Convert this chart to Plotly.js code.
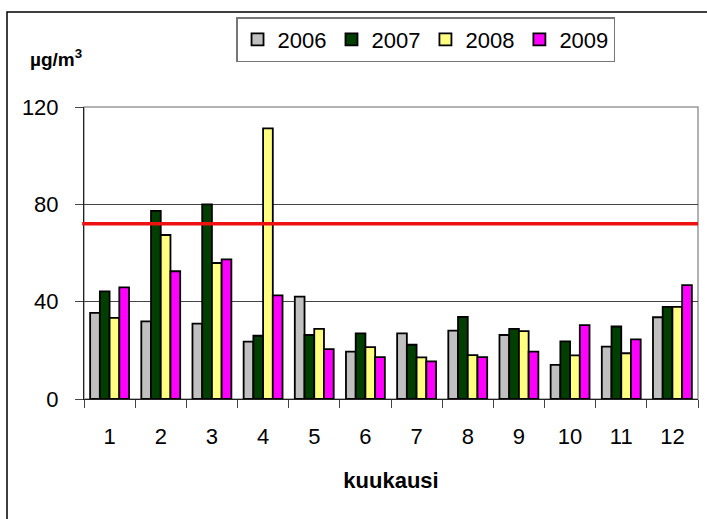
<!DOCTYPE html>
<html>
<head>
<meta charset="utf-8">
<script src="https://cdn.plot.ly/plotly-3.0.1.min.js"></script>
<style>html,body{margin:0;padding:0;background:#fff;}#chart{width:707px;height:519px;}</style>
</head>
<body>
<div id="chart"></div>
<script>
const months = ["1","2","3","4","5","6","7","8","9","10","11","12"];
const years = ["2006","2007","2008","2009"];
const v2006 = [35.4, 31.9, 31.0, 23.6, 42.1, 19.5, 27.0, 28.1, 26.3, 14.0, 21.5, 33.6];
const v2007 = [44.2, 77.3, 80.0, 26.0, 26.3, 27.0, 22.3, 33.7, 28.8, 23.7, 29.8, 37.9];
const v2008 = [33.3, 67.4, 55.9, 111.2, 28.8, 21.3, 17.1, 18.0, 27.9, 17.9, 18.8, 37.9];
const v2009 = [45.9, 52.5, 57.4, 42.6, 20.5, 17.2, 15.5, 17.2, 19.5, 30.4, 24.5, 46.8];
const limitValue = [72];
const yTicks = [0, 40, 80, 120];

const seriesValues = [v2006, v2007, v2008, v2009];
const colors = ["#C0C0C0", "#003F00", "#FFFF80", "#FF00FF"];

const traces = years.map((y, i) => ({
  type: "bar",
  name: y,
  x: months,
  y: seriesValues[i],
  marker: {color: colors[i], line: {color: "#000", width: 1.8}},
  hoverinfo: "x+y+name"
}));

const layout = {
  width: 707, height: 519,
  margin: {l: 84, r: 9, t: 107, b: 120},
  paper_bgcolor: "#fff", plot_bgcolor: "#fff",
  font: {family: "Liberation Sans, Arial, sans-serif", color: "#000", size: 22},
  barmode: "group", bargap: 0.24, bargroupgap: 0,
  showlegend: true,
  legend: {
    orientation: "h", x: 0.2476, y: 1.308, xanchor: "left", yanchor: "top",
    bordercolor: "#777", borderwidth: 1.5, bgcolor: "#fff",
    font: {size: 22}, itemwidth: 30, tracegroupgap: 0
  },
  xaxis: {
    type: "category", tickson: "boundaries", ticks: "outside", ticklen: 8,
    tickcolor: "#444", showline: true, linecolor: "#222", linewidth: 1,
    showgrid: false, tickfont: {size: 22}, ticklabelstandoff: 18,
    title: {text: "<b>kuukausi</b>", font: {size: 22}, standoff: 24}
  },
  yaxis: {
    range: [0, 120], tickvals: yTicks, ticktext: yTicks.map(String),
    ticks: "outside", ticklen: 8, tickcolor: "#444",
    showline: true, linecolor: "#222", linewidth: 1,
    showgrid: true, gridcolor: "#444", gridwidth: 1,
    zeroline: false, tickfont: {size: 22}, ticklabelstandoff: 12
  },
  shapes: [
    {type: "rect", xref: "paper", yref: "paper", x0: 0, x1: 1, y0: 0, y1: 1,
     line: {color: "#999", width: 1.5}, layer: "below"},
    {type: "line", xref: "paper", yref: "y", x0: -0.003, x1: 1, y0: limitValue[0], y1: limitValue[0],
     line: {color: "#EE1111", width: 3.5}},
    {type: "rect", xref: "paper", yref: "paper", x0: -0.1254, x1: 1.06, y0: -0.5, y1: 1.3253,
     line: {color: "#000", width: 1.5}}
  ],
  annotations: [
    {xref: "paper", yref: "paper", x: -0.092, y: 1.12, xanchor: "left", yanchor: "bottom",
     text: "<b>µg/m<sup>3</sup></b>", showarrow: false, font: {size: 19}}
  ]
};

Plotly.newPlot("chart", traces, layout, {displayModeBar: false, staticPlot: true});
</script>
</body>
</html>
